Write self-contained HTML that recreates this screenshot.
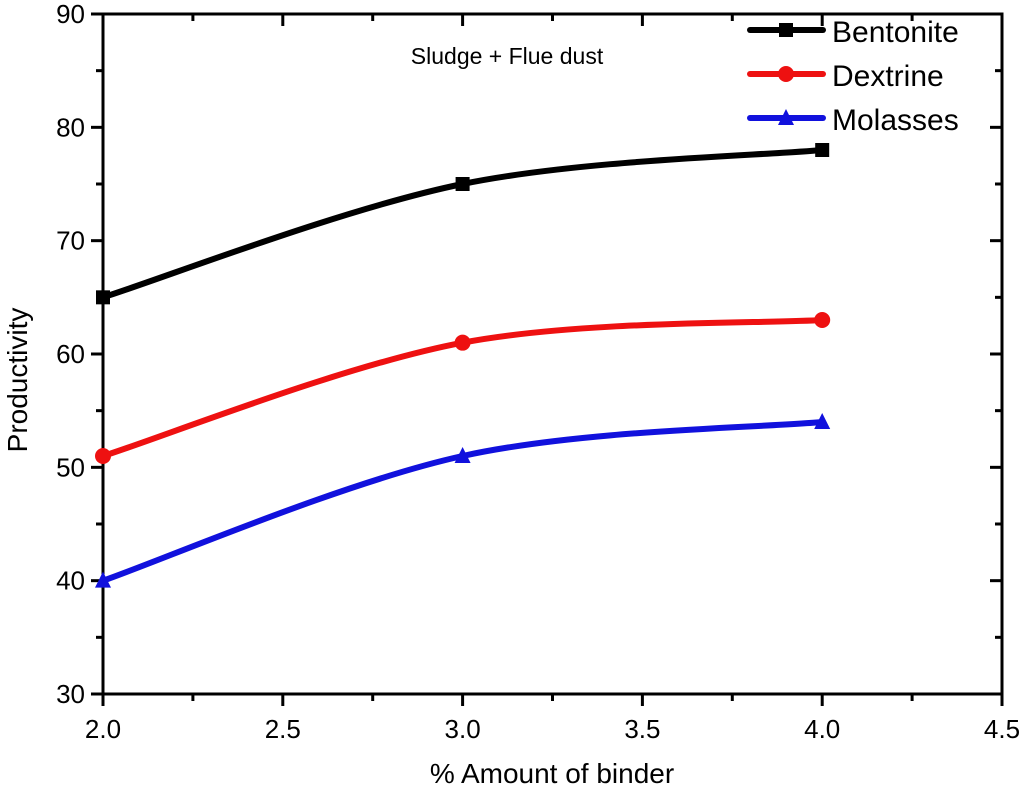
<!DOCTYPE html>
<html><head><meta charset="utf-8"><style>
body{margin:0;background:#fff}
svg text{font-family:"Liberation Sans",Arial,sans-serif;fill:#000}
</style></head><body>
<svg id="c" width="1024" height="793" viewBox="0 0 1024 793">
<g id="axes"></g><g id="series"></g>
<text x="507" y="64" font-size="23" text-anchor="middle">Sludge + Flue dust</text>
<text x="552" y="783" font-size="28" text-anchor="middle">% Amount of binder</text>
<text transform="translate(27,380) rotate(-90)" font-size="28" text-anchor="middle">Productivity</text>
<g id="legend"></g>
</svg>
<script>
const categories=[2.0,3.0,4.0];
const seriesNames=["Bentonite","Dextrine","Molasses"];
const bentonite=[65,75,78];
const dextrine=[51,61,63];
const molasses=[40,51,54];
const xTicks=[2.0,2.5,3.0,3.5,4.0,4.5];
const yTicks=[30,40,50,60,70,80,90];
const colors=["#000000","#ee1111","#1111dd"];
const L=103,R=1002,T=14,B=694;
const X=v=>L+(v-2.0)/(4.5-2.0)*(R-L);
const Y=v=>B-(v-30)/(90-30)*(B-T);
const NS="http://www.w3.org/2000/svg";
function mk(tag,at,parent){const e=document.createElementNS(NS,tag);for(const k in at)e.setAttribute(k,at[k]);parent.appendChild(e);return e;}
const ax=document.getElementById('axes');
const frame=mk('rect',{x:L,y:T,width:R-L,height:B-T,fill:'none',stroke:'#000','stroke-width':3},ax);


xTicks.forEach((t,i)=>{
  const x=X(t);
  mk('line',{x1:x,x2:x,y1:B,y2:B+12,stroke:'#000','stroke-width':3},ax);
  mk('line',{x1:x,x2:x,y1:T,y2:T+12,stroke:'#000','stroke-width':3},ax);
  const tx=mk('text',{x:x,y:B+44,'font-size':26,'text-anchor':'middle'},ax);
  tx.textContent=t.toFixed(1);
  
  
  if(i<xTicks.length-1){const m=X(t+0.25);
    mk('line',{x1:m,x2:m,y1:B,y2:B+7,stroke:'#000','stroke-width':3},ax);
    mk('line',{x1:m,x2:m,y1:T,y2:T+7,stroke:'#000','stroke-width':3},ax);}
});
yTicks.forEach((t,i)=>{
  const y=Y(t);
  mk('line',{x1:L-12,x2:L,y1:y,y2:y,stroke:'#000','stroke-width':3},ax);
  mk('line',{x1:R-12,x2:R,y1:y,y2:y,stroke:'#000','stroke-width':3},ax);
  const tx=mk('text',{x:L-18,y:y+9,'font-size':26,'text-anchor':'end'},ax);
  tx.textContent=t;
  
  
  if(i<yTicks.length-1){const m=Y(t+5);
    mk('line',{x1:L-7,x2:L,y1:m,y2:m,stroke:'#000','stroke-width':3},ax);
    mk('line',{x1:R-7,x2:R,y1:m,y2:m,stroke:'#000','stroke-width':3},ax);}
});
function spline(pts){
  let d=`M${pts[0][0]},${pts[0][1]}`;
  for(let i=0;i<pts.length-1;i++){
    const p0=pts[i-1]||pts[i],p1=pts[i],p2=pts[i+1],p3=pts[i+2]||p2;
    const c1=[p1[0]+(p2[0]-p0[0])/6,p1[1]+(p2[1]-p0[1])/6];
    const c2=[p2[0]-(p3[0]-p1[0])/6,p2[1]-(p3[1]-p1[1])/6];
    d+=` C${c1[0]},${c1[1]} ${c2[0]},${c2[1]} ${p2[0]},${p2[1]}`;
  }
  return d;
}
function marker(i,x,y,parent,s){
  let m;
  if(i===0)m=mk('rect',{x:x-s,y:y-s,width:2*s,height:2*s,fill:colors[i]},parent);
  else if(i===1)m=mk('circle',{cx:x,cy:y,r:s+1,fill:colors[i]},parent);
  else m=mk('polygon',{points:`${x},${y-s-2} ${x-s-1},${y+s} ${x+s+1},${y+s}`,fill:colors[i]},parent);
  return m;
}
const sg=document.getElementById('series');
[bentonite,dextrine,molasses].forEach((vals,i)=>{
  const pts=categories.map((c,j)=>[X(c),Y(vals[j])]);
  const p=mk('path',{d:spline(pts),fill:'none',stroke:colors[i],'stroke-width':6},sg);
  
  
  pts.forEach(q=>{const m=marker(i,q[0],q[1],sg,7);
    
    });
});
const lg=document.getElementById('legend');
seriesNames.forEach((n,i)=>{
  const y=30+i*44;
  const g=mk('g',{},lg);
  
  
  mk('line',{x1:750,x2:823,y1:y,y2:y,stroke:colors[i],'stroke-width':6,'stroke-linecap':'round'},g);
  marker(i,786,y,g,7);
  const t=mk('text',{x:832,y:y+12,'font-size':30},g);
  t.textContent=n;
});
</script>
</body></html>
